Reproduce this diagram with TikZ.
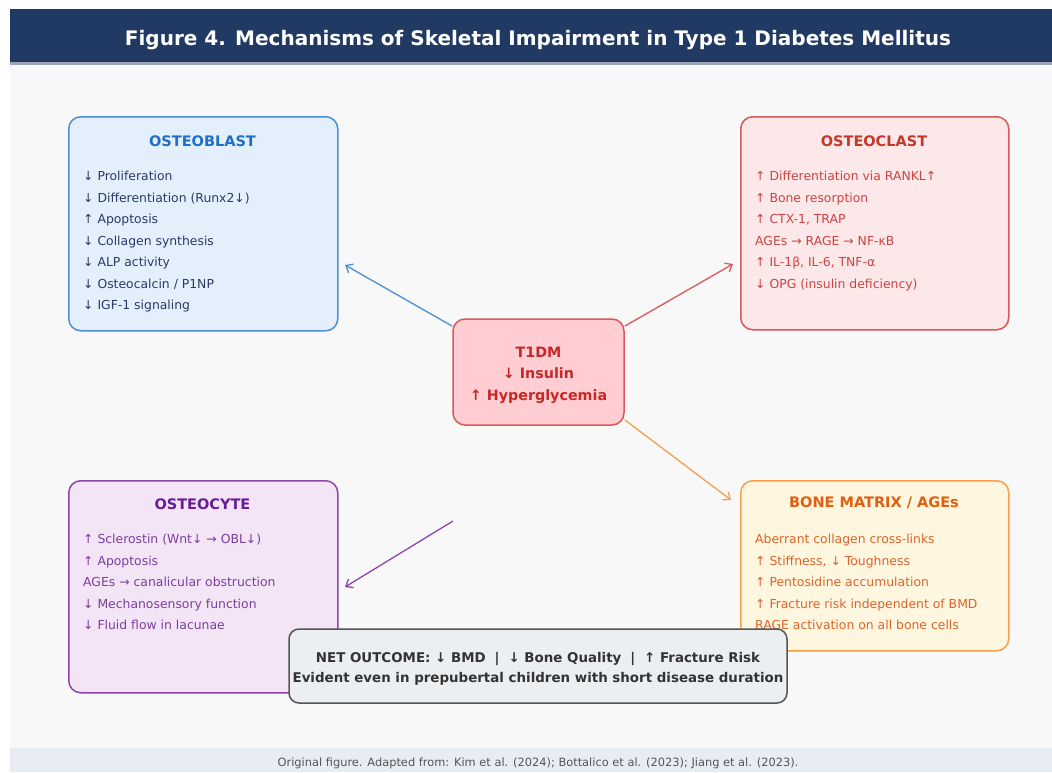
\documentclass[tikz,border=0pt]{standalone}
\usepackage{fontspec}
\setmainfont{DejaVu Sans}
\usetikzlibrary{arrows.meta}
\definecolor{titlebg}{HTML}{213A64}
\definecolor{pagebg}{HTML}{F8F8F8}
\definecolor{footbg}{HTML}{E8EDF4}
\definecolor{blueb}{HTML}{4A90D9}
\definecolor{bluef}{HTML}{E3F0FC}
\definecolor{bluet}{HTML}{1F6FC5}
\definecolor{bluetx}{HTML}{2B3A67}
\definecolor{redb}{HTML}{D9585A}
\definecolor{redf}{HTML}{FCE8E8}
\definecolor{redt}{HTML}{C0392B}
\definecolor{redtx}{HTML}{CC4444}
\definecolor{purb}{HTML}{8E44AD}
\definecolor{purf}{HTML}{F3E5F5}
\definecolor{purt}{HTML}{6A1B9A}
\definecolor{purtx}{HTML}{7B3F9E}
\definecolor{orab}{HTML}{F5A04A}
\definecolor{oraf}{HTML}{FFF6E0}
\definecolor{orat}{HTML}{E0600F}
\definecolor{oratx}{HTML}{D9652B}
\definecolor{t1f}{HTML}{FFCDD2}
\definecolor{t1t}{HTML}{C62828}
\definecolor{netf}{HTML}{ECEFF1}
\definecolor{netb}{HTML}{555555}
\definecolor{nett}{HTML}{333333}
\definecolor{foott}{HTML}{555555}
\begin{document}
\begin{tikzpicture}[x=1pt,y=-1pt,
  cellbox/.style={draw, rounded corners=12pt, line width=1.5pt, anchor=north west, inner sep=0pt},
  boxtitle/.style={font=\fontsize{14.5}{16}\selectfont\bfseries, inner sep=0pt},
  boxbody/.style={font=\fontsize{12.4}{21.5}\selectfont, align=left, anchor=north west, inner sep=0pt},
  arr/.style={-{Straight Barb[length=6pt,width=10pt]}, line width=1.3pt}]
\useasboundingbox (0,0) rectangle (1052,772);
\fill[white] (0,0) rectangle (1052,772);
\fill[pagebg] (10,64) rectangle (1052,748);
\fill[footbg] (10,748) rectangle (1052,772);
\fill[titlebg] (10,9) rectangle (1052,62);
\fill[titlebg!45!white] (10,62) rectangle (1052,64.5);
\node[font=\fontsize{20}{22}\selectfont\bfseries, text=white, inner sep=0pt] (title) at (538,40) {Figure 4. Mechanisms of Skeletal Impairment in Type 1 Diabetes Mellitus};

% Osteoblast
\node[cellbox, draw=blueb, fill=bluef, minimum width=269pt, minimum height=214pt] (obl) at (68,116) {};
\node[boxtitle, text=bluet] (oblt) at (202.5,141) {OSTEOBLAST};
\node[boxbody, text=bluetx] (oblb) at (83,171) {↓ Proliferation\\ ↓ Differentiation (Runx2↓)\\ ↑ Apoptosis\\ ↓ Collagen synthesis\\ ↓ ALP activity\\ ↓ Osteocalcin / P1NP\\ ↓ IGF-1 signaling};

% Osteoclast
\node[cellbox, draw=redb, fill=redf, minimum width=268pt, minimum height=213pt] (ocl) at (740,116) {};
\node[boxtitle, text=redt] (oclt) at (874,141) {OSTEOCLAST};
\node[boxbody, text=redtx] (oclb) at (755,171) {↑ Differentiation via RANKL↑\\ ↑ Bone resorption\\ ↑ CTX-1, TRAP\\ AGEs → RAGE → NF-κB\\ ↑ IL-1β, IL-6, TNF-α\\ ↓ OPG (insulin deficiency)};

% Osteocyte
\node[cellbox, draw=purb, fill=purf, minimum width=269pt, minimum height=212pt] (ocy) at (68,480) {};
\node[boxtitle, text=purt] (ocyt) at (202.5,504) {OSTEOCYTE};
\node[boxbody, text=purtx] (ocyb) at (83,534) {↑ Sclerostin (Wnt↓ → OBL↓)\\ ↑ Apoptosis\\ AGEs → canalicular obstruction\\ ↓ Mechanosensory function\\ ↓ Fluid flow in lacunae};

% Bone matrix
\node[cellbox, draw=orab, fill=oraf, minimum width=268pt, minimum height=170pt] (bm) at (740,480) {};
\node[boxtitle, text=orat] (bmt) at (874,503) {BONE MATRIX / AGEs};
\node[boxbody, text=oratx] (bmb) at (755,534) {Aberrant collagen cross-links\\ ↑ Stiffness, ↓ Toughness\\ ↑ Pentosidine accumulation\\ ↑ Fracture risk independent of BMD\\ RAGE activation on all bone cells};

% T1DM
\node[draw=redb, fill=t1f, line width=1.5pt, rounded corners=12pt, minimum width=171pt, minimum height=106pt, inner sep=0pt] (t1dm) at (538.5,372) {};
\node[text=t1t, font=\fontsize{14.3}{21.5}\selectfont\bfseries, align=center, inner sep=0pt] (t1dmtx) at (538.5,375) {T1DM\\ ↓ Insulin\\ ↑ Hyperglycemia};

% arrows
\coordinate (eobl) at (345,265);
\coordinate (eocl) at (733,264);
\coordinate (ebm) at (731,500);
\coordinate (socy) at (453,521);
\coordinate (eocy) at (345,587);
\draw[arr, draw=blueb] (t1dm.152) -- (eobl);
\draw[arr, draw=redb] (t1dm.28) -- (eocl);
\draw[arr, draw=orab] (t1dm.331) -- (ebm);
\draw[arr, draw=purb] (socy) -- (eocy);

% Net outcome
\node[draw=netb, fill=netf, line width=1.5pt, rounded corners=10pt, minimum width=498pt, minimum height=74pt, inner sep=0pt] (net) at (538,666) {};
\node[text=nett, font=\fontsize{13.4}{20}\selectfont\bfseries, align=center, inner sep=0pt] (nettx) at (538,669) {NET OUTCOME: ↓ BMD\enspace\,|\,\enspace{}↓ Bone Quality\enspace\,|\,\enspace{}↑ Fracture Risk\\ Evident even in prepubertal children with short disease duration};

% footer
\node[text=foott, font=\fontsize{11.4}{12}\selectfont, inner sep=0pt] (foot) at (538,763) {Original figure. Adapted from: Kim et al. (2024); Bottalico et al. (2023); Jiang et al. (2023).};
\end{tikzpicture}
\end{document}
